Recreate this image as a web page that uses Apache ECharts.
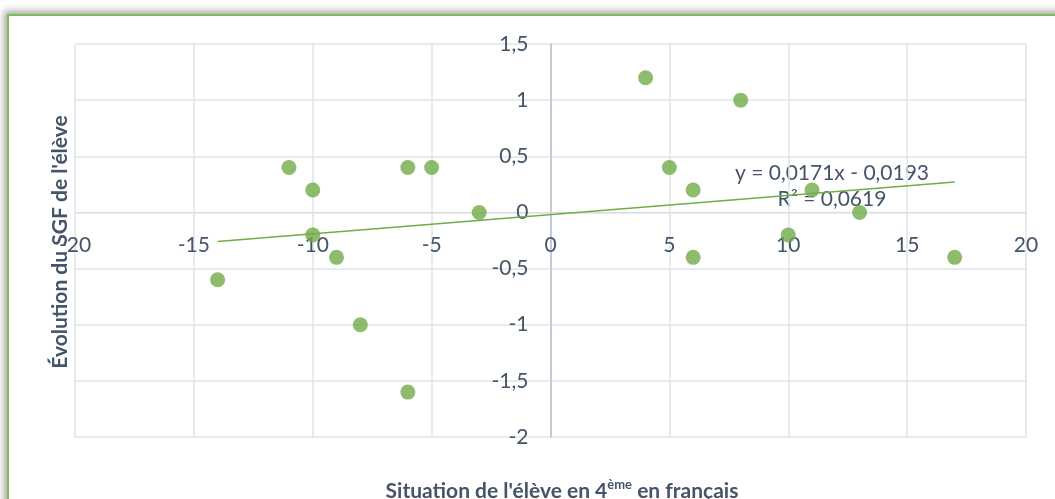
<!DOCTYPE html>
<html>
<head>
<meta charset="utf-8">
<script src="https://cdn.jsdelivr.net/npm/echarts@6/dist/echarts.min.js"></script>
<style>
  html, body { margin: 0; padding: 0; background: #fff; overflow: hidden; }
  .frame {
    position: absolute; left: 7px; top: 14px; width: 1120px; height: 560px;
    border: 2px solid #7cbf4e; box-shadow: -3px -3px 7px rgba(0,0,0,0.35);
    background: #fff;
  }
  #chart { position: absolute; left: 0; top: 0; width: 1055px; height: 499px; }
</style>
</head>
<body>
<div class="frame"></div>
<div id="chart"></div>
<script>
// situation en 4ème (x) et évolution du SGF (y)
const xValues = [-14, -11, -10, -10, -9, -8, -6, -6, -5, -3, 4, 5, 6, 6, 8, 10, 11, 13, 17]
const yValues = [-0.6, 0.4, 0.2, -0.2, -0.4, -1, 0.4, -1.6, 0.4, 0, 1.2, 0.4, 0.2, -0.4, 1, -0.2, 0.2, 0, -0.4]
// courbe de tendance (extrémités)
const trendX = [-14, 17]
const trendY = [-0.259, 0.271]
const trendLabel = ['y = 0,0171x - 0,0193', 'R² = 0,0619']

const textColor = '#44546a'
const font = 'Lato, "Open Sans", sans-serif'
const comma = v => String(v).replace('.', ',')

// zone de tracé
const gridLeft = 75, gridRight = 29, gridTop = 44, gridBottom = 62
const plotW = 1055 - gridLeft - gridRight
const plotH = 499 - gridTop - gridBottom
const xMin = -20, xMax = 20, yMin = -2, yMax = 1.5

const chart = echarts.init(document.getElementById('chart'))
chart.setOption({
  animation: false,
  grid: { left: gridLeft, right: gridRight, top: gridTop, bottom: gridBottom },
  xAxis: {
    type: 'value', min: xMin, max: xMax, interval: 5,
    // axe placé sur y = 0, étiquettes comprises
    offset: -plotH * (0 - yMin) / (yMax - yMin),
    axisLine: { onZero: false, lineStyle: { color: '#d9dde3', width: 1 } },
    axisTick: { show: false },
    splitLine: { lineStyle: { color: '#dfe3e8', width: 1.5 } },
    axisLabel: { color: textColor, fontSize: 21, fontFamily: font, margin: 22, hideOverlap: false, formatter: comma },
  },
  yAxis: {
    type: 'value', min: yMin, max: yMax, interval: 0.5,
    offset: -plotW * (0 - xMin) / (xMax - xMin),
    axisLine: { show: true, onZero: false, lineStyle: { color: '#b4bfcf', width: 1.5 } },
    axisTick: { show: false },
    splitLine: { lineStyle: { color: '#dfe3e8', width: 1.5 } },
    axisLabel: { color: textColor, fontSize: 21, fontFamily: font, margin: 22, hideOverlap: false, formatter: comma },
  },
  graphic: [
    {
      type: 'text', x: 562, y: 491,
      style: {
        text: '{b|Situation de l\'élève en 4}{s|ème}{b| en français}',
        align: 'center', verticalAlign: 'middle',
        rich: {
          b: { fontSize: 21, fontWeight: 'bold', fill: textColor, fontFamily: font },
          s: { fontSize: 13, fontWeight: 'bold', fill: textColor, fontFamily: font, padding: [0, 0, 12, 0] },
        },
      },
    },
    {
      type: 'text', x: 60, y: 242, rotation: Math.PI / 2,
      style: {
        text: 'Évolution du SGF de l\'élève', fontSize: 21, fontWeight: 'bold',
        fill: textColor, fontFamily: font, align: 'center', verticalAlign: 'middle',
      },
    },
    {
      type: 'text', x: 832, y: 173,
      style: { text: trendLabel[0], fontSize: 21, fill: textColor, fontFamily: font, align: 'center', verticalAlign: 'middle' },
    },
    {
      type: 'text', x: 832, y: 199,
      style: { text: trendLabel[1], fontSize: 21, fill: textColor, fontFamily: font, align: 'center', verticalAlign: 'middle' },
    },
  ],
  series: [
    {
      type: 'line',
      data: trendX.map((x, i) => [x, trendY[i]]),
      showSymbol: false,
      lineStyle: { color: '#70ad47', width: 1.5 },
      z: 3,
    },
    {
      type: 'scatter',
      data: xValues.map((x, i) => [x, yValues[i]]),
      symbolSize: 15,
      itemStyle: { color: '#70ad47' },
      z: 2,
    },
  ],
})
</script>
</body>
</html>
